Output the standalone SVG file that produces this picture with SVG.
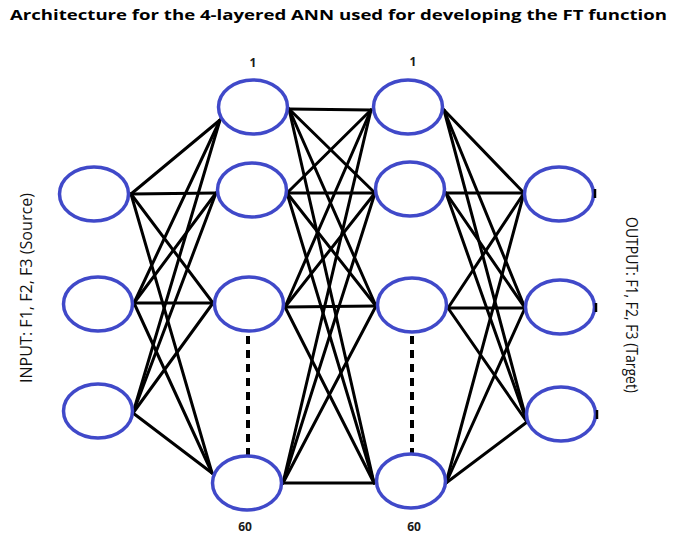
<svg xmlns="http://www.w3.org/2000/svg" width="675" height="537" viewBox="0 0 675 537">
  <style>
    .node { fill: #ffffff; stroke: #4049c9; stroke-width: 3.5; }
    .edge { stroke: #000000; stroke-width: 3; fill: none; stroke-linecap: round; }
    .tick { stroke: #000000; stroke-width: 2.5; }
    .dots { stroke: #000000; stroke-width: 4; stroke-dasharray: 8 6; fill: none; }
    .title { font-family: "Open Sans", "Liberation Sans", sans-serif; font-weight: bold; font-size: 15px; fill: #000000; }
    .idx { font-family: "Open Sans", "Liberation Sans", sans-serif; font-weight: bold; font-size: 12px; fill: #1a1a1a; text-anchor: middle; }
    .side { font-family: "Open Sans", "Liberation Sans", sans-serif; font-size: 17px; fill: #111111; text-anchor: middle; }
  </style>

  <rect width="675" height="537" fill="#ffffff"/>

  <text class="title" x="10" y="20" textLength="657" lengthAdjust="spacingAndGlyphs">Architecture for the 4-layered ANN used for developing the FT function</text>

  <!-- weights between layers -->
  <g id="connectors">
    <!-- input -> hidden 1 -->
    <line class="edge" x1="131" y1="194" x2="220" y2="120"/>
    <line class="edge" x1="131" y1="194" x2="216" y2="193"/>
    <line class="edge" x1="131" y1="194" x2="213" y2="303"/>
    <line class="edge" x1="131" y1="194" x2="212" y2="473"/>
    <line class="edge" x1="134" y1="303" x2="220" y2="120"/>
    <line class="edge" x1="134" y1="303" x2="216" y2="193"/>
    <line class="edge" x1="134" y1="303" x2="213" y2="303"/>
    <line class="edge" x1="134" y1="303" x2="212" y2="473"/>
    <line class="edge" x1="133" y1="413" x2="220" y2="120"/>
    <line class="edge" x1="133" y1="413" x2="216" y2="193"/>
    <line class="edge" x1="133" y1="413" x2="213" y2="303"/>
    <line class="edge" x1="133" y1="413" x2="212" y2="473"/>
    <!-- hidden 1 -> hidden 2 -->
    <line class="edge" x1="289" y1="109" x2="371" y2="110"/>
    <line class="edge" x1="289" y1="109" x2="375" y2="193"/>
    <line class="edge" x1="289" y1="109" x2="376" y2="306"/>
    <line class="edge" x1="289" y1="109" x2="374" y2="483"/>
    <line class="edge" x1="287" y1="193" x2="371" y2="110"/>
    <line class="edge" x1="287" y1="193" x2="375" y2="193"/>
    <line class="edge" x1="287" y1="193" x2="376" y2="306"/>
    <line class="edge" x1="287" y1="193" x2="374" y2="483"/>
    <line class="edge" x1="285" y1="307" x2="371" y2="110"/>
    <line class="edge" x1="285" y1="307" x2="375" y2="193"/>
    <line class="edge" x1="285" y1="307" x2="376" y2="306"/>
    <line class="edge" x1="285" y1="307" x2="374" y2="483"/>
    <line class="edge" x1="283" y1="483" x2="371" y2="110"/>
    <line class="edge" x1="283" y1="483" x2="375" y2="193"/>
    <line class="edge" x1="283" y1="483" x2="376" y2="306"/>
    <line class="edge" x1="283" y1="483" x2="374" y2="483"/>
    <!-- hidden 2 -> output -->
    <line class="edge" x1="444" y1="110" x2="524" y2="193"/>
    <line class="edge" x1="444" y1="110" x2="525" y2="308"/>
    <line class="edge" x1="444" y1="110" x2="527" y2="422"/>
    <line class="edge" x1="446" y1="193" x2="524" y2="193"/>
    <line class="edge" x1="446" y1="193" x2="525" y2="308"/>
    <line class="edge" x1="446" y1="193" x2="527" y2="422"/>
    <line class="edge" x1="448" y1="308" x2="524" y2="193"/>
    <line class="edge" x1="448" y1="308" x2="525" y2="308"/>
    <line class="edge" x1="448" y1="308" x2="527" y2="422"/>
    <line class="edge" x1="446" y1="483" x2="524" y2="193"/>
    <line class="edge" x1="446" y1="483" x2="525" y2="308"/>
    <line class="edge" x1="446" y1="483" x2="527" y2="422"/>
    <!-- omitted units 4..59 -->
    <line class="dots" x1="248" y1="336" x2="248" y2="455"/>
    <line class="dots" x1="412" y1="336" x2="412" y2="453"/>
  </g>

  <!-- input layer -->
  <g id="in1"><ellipse class="node" cx="94" cy="194" rx="34.5" ry="27"/></g>
  <g id="in2"><ellipse class="node" cx="98" cy="304" rx="34.5" ry="27"/></g>
  <g id="in3"><ellipse class="node" cx="98" cy="411" rx="34.5" ry="27"/></g>

  <!-- hidden layer 1 -->
  <g id="h1_1"><ellipse class="node" cx="253" cy="107" rx="34.5" ry="27"/></g>
  <g id="h1_2"><ellipse class="node" cx="252" cy="190" rx="34.5" ry="27"/></g>
  <g id="h1_3"><ellipse class="node" cx="249" cy="304" rx="34.5" ry="27"/></g>
  <g id="h1_60"><ellipse class="node" cx="247" cy="483" rx="34.5" ry="27"/></g>

  <!-- hidden layer 2 -->
  <g id="h2_1"><ellipse class="node" cx="408" cy="107" rx="34.5" ry="27"/></g>
  <g id="h2_2"><ellipse class="node" cx="410" cy="189" rx="34.5" ry="27"/></g>
  <g id="h2_3"><ellipse class="node" cx="412" cy="305" rx="34.5" ry="27"/></g>
  <g id="h2_60"><ellipse class="node" cx="411" cy="481" rx="34.5" ry="27"/></g>

  <!-- output layer -->
  <g id="out1"><ellipse class="node" cx="559" cy="194" rx="34.5" ry="27"/><line class="tick" x1="595" y1="189" x2="595" y2="198"/></g>
  <g id="out2"><ellipse class="node" cx="560" cy="307" rx="34.5" ry="27"/><line class="tick" x1="596" y1="303" x2="596" y2="312"/></g>
  <g id="out3"><ellipse class="node" cx="561" cy="414" rx="34.5" ry="27"/><line class="tick" x1="597" y1="410" x2="597" y2="419"/></g>

  <!-- unit indices -->
  <text class="idx" x="253" y="67">1</text>
  <text class="idx" x="413" y="66">1</text>
  <text class="idx" x="245" y="531">60</text>
  <text class="idx" x="414" y="531">60</text>

  <!-- side captions -->
  <text class="side" transform="translate(32,288) rotate(-90)" textLength="190" lengthAdjust="spacingAndGlyphs">INPUT: F1, F2, F3 (Source)</text>
  <text class="side" transform="translate(626,305) rotate(90)" textLength="176" lengthAdjust="spacingAndGlyphs">OUTPUT: F1, F2, F3 (Target)</text>
</svg>
